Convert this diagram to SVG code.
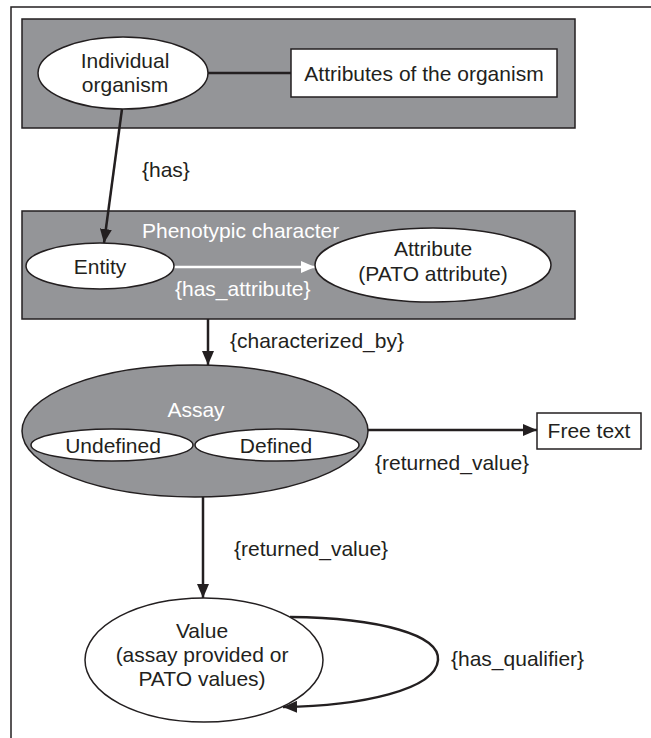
<svg xmlns="http://www.w3.org/2000/svg" width="651" height="738" viewBox="0 0 651 738">
<defs>
<style>
text{font-family:"Liberation Sans",Arial,sans-serif;font-size:21px;fill:#231f20}
.w{fill:#ffffff}
.c{text-anchor:middle}
.box{fill:#949598;stroke:#231f20;stroke-width:1.5}
.node{fill:#ffffff;stroke:#231f20;stroke-width:1.5}
.edge{stroke:#231f20;stroke-width:2.5;fill:none}
</style>
<marker id="ah" markerUnits="userSpaceOnUse" markerWidth="14" markerHeight="12" refX="14" refY="6" orient="auto"><path d="M0,0 L14,6 L0,12 z" fill="#231f20"/></marker>
<marker id="ahw" markerUnits="userSpaceOnUse" markerWidth="14" markerHeight="12" refX="14" refY="6" orient="auto"><path d="M0,0 L14,6 L0,12 z" fill="#ffffff"/></marker>
</defs>
<rect width="651" height="738" fill="#ffffff"/>
<path d="M11,738 V7 H651" fill="none" stroke="#231f20" stroke-width="1.5"/>
<g id="organism-group">
<rect class="box" x="22" y="19" width="553" height="109"/>
</g>
<g id="phenotypic-character">
<rect class="box" x="22" y="211" width="553" height="108"/>
<text class="w" x="142" y="238">Phenotypic character</text>
</g>
<g id="connectors">
<line class="edge" x1="207" y1="73" x2="291" y2="73"/>
<line class="edge" x1="122" y1="109" x2="104" y2="243" marker-end="url(#ah)"/>
<line class="edge" x1="174" y1="267" x2="315" y2="267" stroke="#ffffff" style="stroke:#ffffff" marker-end="url(#ahw)"/>
<line class="edge" x1="208" y1="319" x2="208" y2="365" marker-end="url(#ah)"/>
<line class="edge" x1="368" y1="430" x2="537" y2="430" marker-end="url(#ah)"/>
<line class="edge" x1="203" y1="497" x2="203" y2="598" marker-end="url(#ah)"/>
<path class="edge" d="M290,617 C380,618 440,635 438,660 C436,690 360,706 283,707" marker-end="url(#ah)"/>
<text x="142" y="177">{has}</text>
<text class="w" x="175" y="296">{has_attribute}</text>
<text x="230" y="348">{characterized_by}</text>
<text x="375" y="470">{returned_value}</text>
<text x="234" y="556">{returned_value}</text>
<text x="451" y="666">{has_qualifier}</text>
</g>
<g id="individual-organism">
<ellipse class="node" cx="123" cy="73" rx="85" ry="36"/>
<text class="c" x="125" y="68">Individual</text>
<text class="c" x="125" y="92">organism</text>
</g>
<g id="attributes-of-organism">
<rect class="node" x="291" y="49" width="266" height="48"/>
<text class="c" x="424" y="81">Attributes of the organism</text>
</g>
<g id="entity">
<ellipse class="node" cx="100" cy="266" rx="74" ry="23"/>
<text class="c" x="100" y="274">Entity</text>
</g>
<g id="attribute">
<ellipse class="node" cx="433" cy="265" rx="118" ry="37"/>
<text class="c" x="433" y="256">Attribute</text>
<text class="c" x="433" y="281">(PATO attribute)</text>
</g>
<g id="assay">
<ellipse cx="195" cy="431" rx="173" ry="66" fill="#949598" stroke="#231f20" stroke-width="1.5"/>
<text class="c w" x="196" y="417">Assay</text>
<ellipse class="node" cx="112" cy="445" rx="81" ry="16"/>
<ellipse class="node" cx="277" cy="445" rx="82" ry="16"/>
<text class="c" x="113" y="453">Undefined</text>
<text class="c" x="276" y="453">Defined</text>
</g>
<g id="free-text">
<rect class="node" x="537" y="413" width="104" height="36"/>
<text class="c" x="589" y="438">Free text</text>
</g>
<g id="value">
<ellipse class="node" cx="204" cy="660" rx="119" ry="62"/>
<text class="c" x="202" y="638">Value</text>
<text class="c" x="202" y="662">(assay provided or</text>
<text class="c" x="202" y="686">PATO values)</text>
</g>
</svg>
